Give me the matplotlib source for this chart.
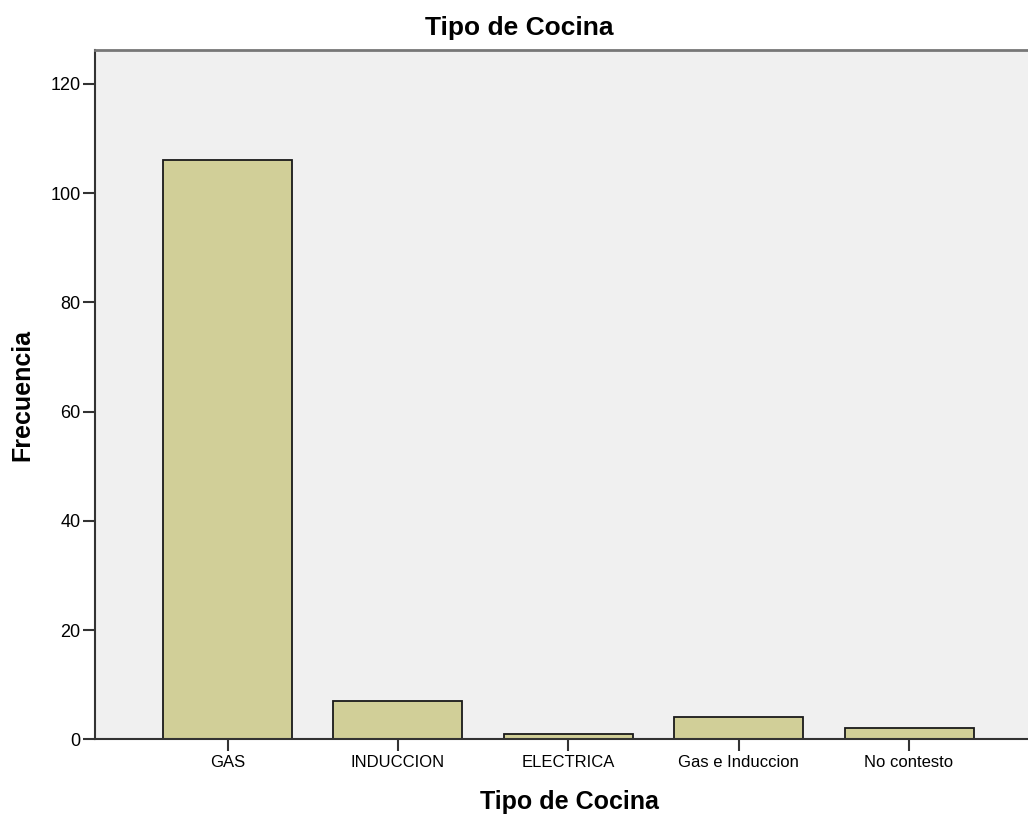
import numpy as np
import matplotlib.pyplot as plt

plt.rcParams['font.family'] = ['Liberation Sans', 'DejaVu Sans']

categorias = ["GAS", "INDUCCION", "ELECTRICA", "Gas e Induccion", "No contesto"]
frecuencia = [106, 7, 1, 4, 2]
yticks = [0, 20, 40, 60, 80, 100, 120]

W, H = 1028, 816
fig = plt.figure(figsize=(W / 100, H / 100), dpi=100)
ax = fig.add_axes([95 / W, 1 - 739.3 / H, 1 - 95 / W, (739.3 - 50) / H])
ax.set_facecolor("#f0f0f0")

x = np.arange(len(categorias))
ax.bar(x, frecuencia, width=0.757, color="#d1cf98", edgecolor="#1a1a1a", linewidth=1.3, zorder=2)

ax.set_xlim(-0.778, 4 + (W - 909) / 170.4)
ax.set_ylim(0, 126.2)
ax.set_xticks(x)
ax.set_xticklabels(categorias, fontsize=12)
ax.set_yticks(yticks)
ax.set_yticklabels([str(v) for v in yticks], fontsize=13)
ax.tick_params(axis="both", direction="out", length=8.5, width=1.5, color="#333333")
ax.tick_params(axis="y", pad=2)
ax.tick_params(axis="x", pad=3)

for side in ["left", "bottom"]:
    ax.spines[side].set_color("#333333")
    ax.spines[side].set_linewidth(1.5)
ax.spines["top"].set_color("#777777")
ax.spines["top"].set_linewidth(2)
ax.spines["right"].set_visible(False)

# titulos y etiquetas de ejes en posiciones fijas de la figura
fig.text(519 / W, 1 - 28 / H, "Tipo de Cocina", fontsize=19, fontweight="bold",
         ha="center", va="center")
fig.text(569 / W, 1 - 802 / H, "Tipo de Cocina", fontsize=18, fontweight="bold",
         ha="center", va="center")
fig.text(22 / W, 1 - 395 / H, "Frecuencia", fontsize=18, fontweight="bold",
         ha="center", va="center", rotation=90)

fig.savefig("out.png", dpi=100)
